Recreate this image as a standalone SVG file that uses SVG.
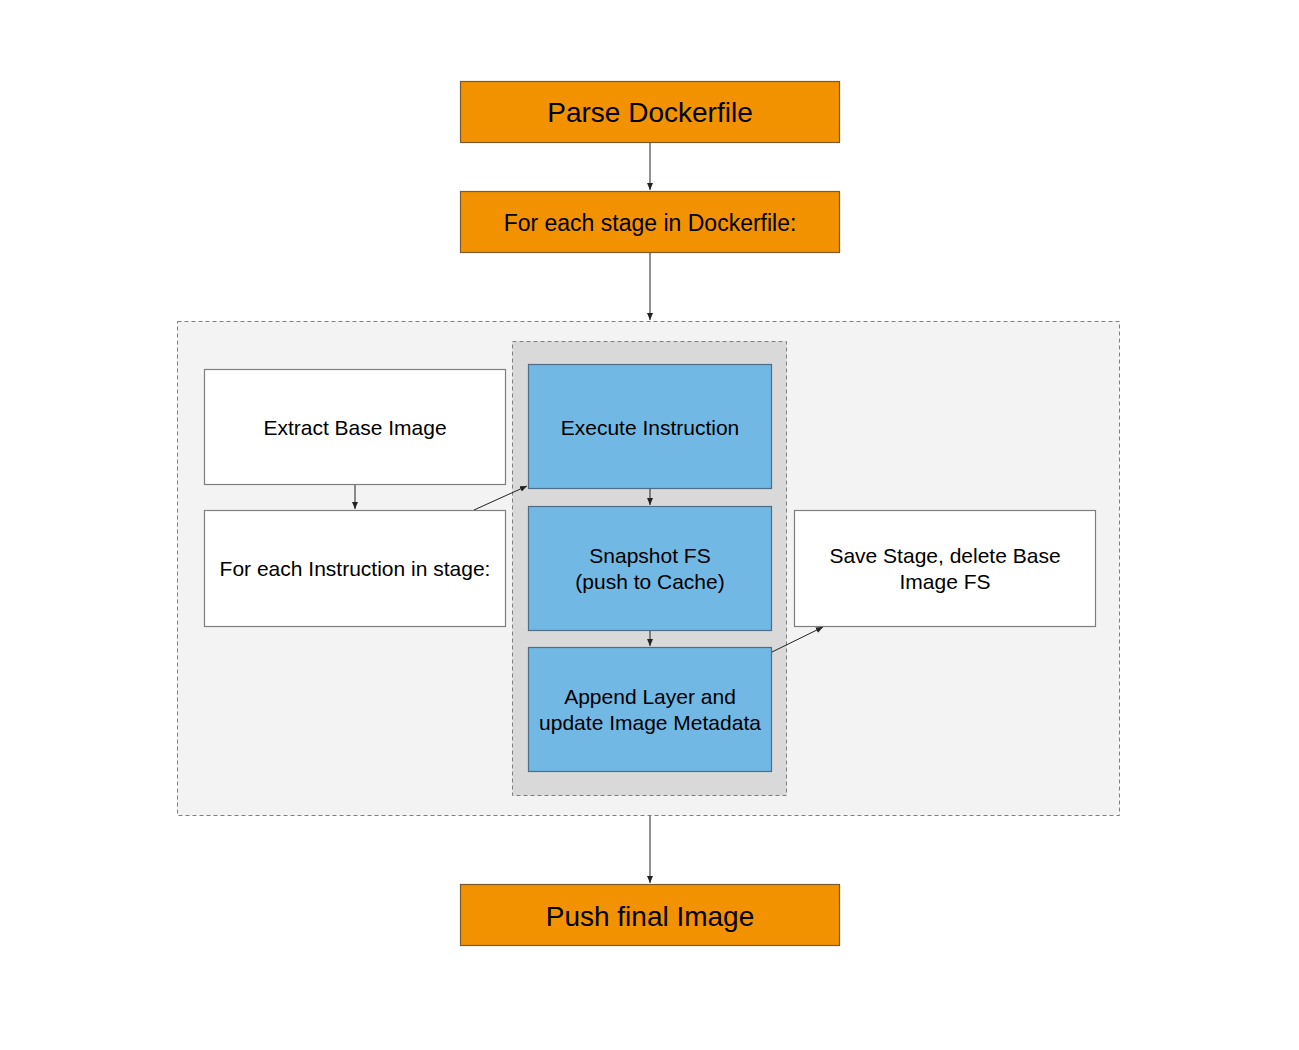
<svg xmlns="http://www.w3.org/2000/svg" width="1299" height="1050" viewBox="0 0 1299 1050">
<defs>
<marker id="ah" markerWidth="8" markerHeight="8" refX="7" refY="4" orient="auto" markerUnits="userSpaceOnUse">
<path d="M0,1 L7,4 L0,7 Z" fill="#222"/>
</marker>
<style>
text{font-family:"Liberation Sans",Arial,Helvetica,sans-serif;fill:#000;text-anchor:middle}
.orange{fill:#f29200;stroke:#7a5a2e;stroke-width:1.2}
.white{fill:#fff;stroke:#7f7f7f;stroke-width:1.2}
.blue{fill:#71b8e4;stroke:#4f6d86;stroke-width:1.2}
.edge{fill:none;stroke:#222;stroke-width:1;marker-end:url(#ah)}
.big{font-size:28px}
.mid{font-size:23px}
.sm{font-size:21px}
</style>
</defs>
<rect width="1299" height="1050" fill="#fff"/>
<g id="outer-container">
<rect x="177.5" y="321.5" width="942" height="494" fill="#f3f3f3" stroke="#7f7f7f" stroke-width="1" stroke-dasharray="4,3"/>
</g>
<g id="inner-container">
<rect x="512.5" y="341.5" width="274" height="454" fill="#d9d9d9" stroke="#7f7f7f" stroke-width="1" stroke-dasharray="4,3"/>
</g>
<g id="parse">
<rect class="orange" x="460.5" y="81.5" width="379" height="61"/>
<text class="big" x="650" y="122">Parse Dockerfile</text>
</g>
<g id="stage">
<rect class="orange" x="460.5" y="191.5" width="379" height="61"/>
<text class="mid" x="650" y="231">For each stage in Dockerfile:</text>
</g>
<g id="extract">
<rect class="white" x="204.5" y="369.5" width="301" height="115"/>
<text class="sm" x="355" y="435">Extract Base Image</text>
</g>
<g id="foreach-instr">
<rect class="white" x="204.5" y="510.5" width="301" height="116"/>
<text class="sm" x="355" y="576">For each Instruction in stage:</text>
</g>
<g id="execute">
<rect class="blue" x="528.5" y="364.5" width="243" height="124"/>
<text class="sm" x="650" y="435">Execute Instruction</text>
</g>
<g id="snapshot">
<rect class="blue" x="528.5" y="506.5" width="243" height="124"/>
<text class="sm" x="650" y="563">Snapshot FS</text>
<text class="sm" x="650" y="589">(push to Cache)</text>
</g>
<g id="append">
<rect class="blue" x="528.5" y="647.5" width="243" height="124"/>
<text class="sm" x="650" y="704">Append Layer and</text>
<text class="sm" x="650" y="730">update Image Metadata</text>
</g>
<g id="save">
<rect class="white" x="794.5" y="510.5" width="301" height="116"/>
<text class="sm" x="945" y="563">Save Stage, delete Base</text>
<text class="sm" x="945" y="589">Image FS</text>
</g>
<g id="push">
<rect class="orange" x="460.5" y="884.5" width="379" height="61"/>
<text class="big" x="650" y="926">Push final Image</text>
</g>
<g id="connectors">
<line class="edge" x1="650" y1="143" x2="650" y2="190"/>
<line class="edge" x1="650" y1="253" x2="650" y2="320"/>
<line class="edge" x1="355" y1="485" x2="355" y2="509"/>
<line class="edge" x1="474" y1="510" x2="527" y2="486"/>
<line class="edge" x1="650" y1="489" x2="650" y2="505"/>
<line class="edge" x1="650" y1="631" x2="650" y2="646"/>
<line class="edge" x1="772" y1="652" x2="823" y2="627"/>
<line class="edge" x1="650" y1="816" x2="650" y2="883"/>
</g>
</svg>
